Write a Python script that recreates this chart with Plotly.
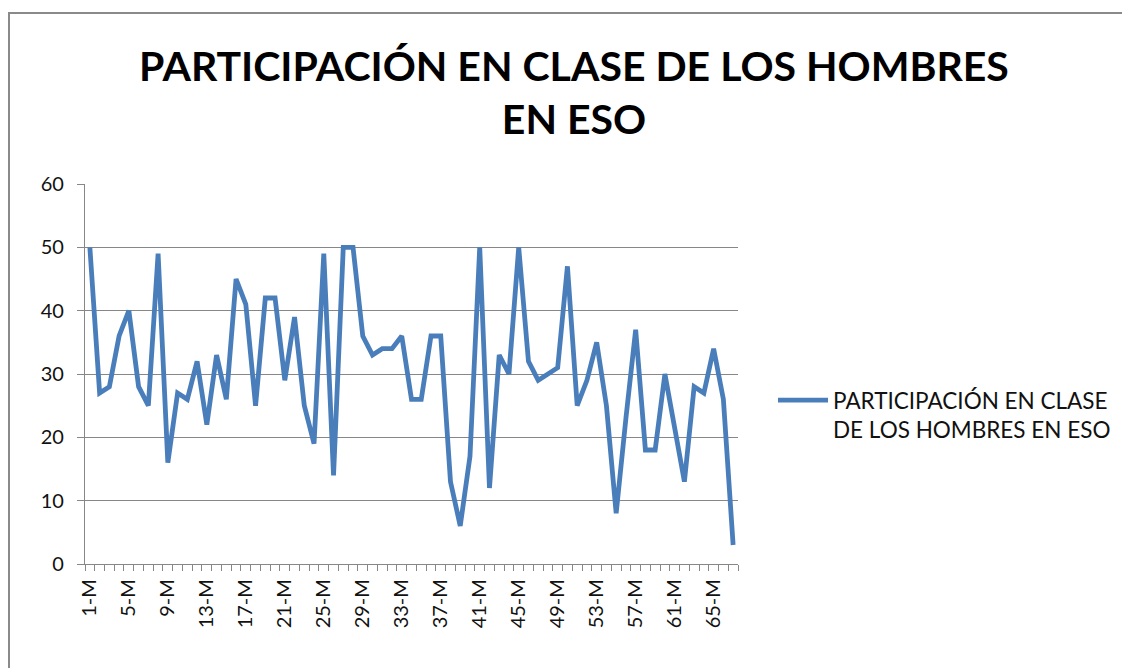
import plotly.graph_objects as go

categories = [f"{i}-M" for i in range(1, 68)]
values = [50, 27, 28, 36, 40, 28, 25, 49, 16, 27,
          26, 32, 22, 33, 26, 45, 41, 25, 42, 42,
          29, 39, 25, 19, 49, 14, 50, 50, 36, 33,
          34, 34, 36, 26, 26, 36, 36, 13, 6, 17,
          50, 12, 33, 30, 50, 32, 29, 30, 31, 47,
          25, 29, 35, 25, 8, 23, 37, 18, 18, 30,
          21, 13, 28, 27, 34, 26, 3]
series_name = "PARTICIPACIÓN EN CLASE<br>DE LOS HOMBRES EN ESO"
title_text = "PARTICIPACIÓN EN CLASE DE LOS HOMBRES<br>EN ESO"
tick_text = [c if i % 4 == 0 else "" for i, c in enumerate(categories)]

W, H = 1130, 668
L, R, T, B = 77, 400, 176, 112
pw, ph = W - L - R, H - T - B

FONT = "Lato, 'Open Sans', sans-serif"
GRID = "#878787"

fig = go.Figure()
fig.add_trace(go.Scatter(
    x=categories, y=values, mode="lines", name=series_name,
    line=dict(color="#4A7EBB", width=4.8),
    showlegend=True,
))

def px_x(p):
    return (p - L) / pw

def px_y(p):
    return (H - B - p) / ph

fig.update_layout(
    width=W, height=H,
    margin=dict(l=L, r=R, t=T, b=B, pad=0),
    paper_bgcolor="white", plot_bgcolor="white",
    font=dict(family=FONT, color="#111111"),
    title=dict(text="<b>" + title_text + "</b>", x=566 / W, xanchor="center",
               y=1 - 73 / H, yanchor="middle", xref="container", yref="container",
               font=dict(family=FONT, size=41, color="#000000")),
    showlegend=True,
    legend=dict(x=px_x(765), y=px_y(407), xanchor="left", yanchor="middle",
                font=dict(family=FONT, size=22.5, color="#111111"),
                bgcolor="rgba(0,0,0,0)", itemwidth=50, valign="top",
                tracegroupgap=0),
    xaxis=dict(
        type="category", categoryorder="array", categoryarray=categories,
        range=[-0.5, len(categories) - 0.5],
        tickmode="array", tickvals=categories, ticktext=tick_text,
        tickson="boundaries", ticks="outside", ticklen=6, tickcolor=GRID,
        tickangle=-90, tickfont=dict(family=FONT, size=20, color="#111111"),
        ticklabelstandoff=6,
        showline=True, linecolor=GRID, linewidth=1.3,
        showgrid=False, zeroline=False, fixedrange=True,
    ),
    yaxis=dict(
        range=[0, 60], dtick=10, tick0=0,
        ticks="outside", ticklen=7, tickcolor=GRID,
        tickfont=dict(family=FONT, size=20, color="#111111"),
        ticklabelstandoff=9,
        showline=True, linecolor=GRID, linewidth=1.3,
        showgrid=True, gridcolor=GRID, gridwidth=1.2,
        zeroline=False, fixedrange=True,
    ),
    shapes=[dict(type="rect", xref="paper", yref="paper",
                 x0=px_x(1), x1=px_x(1200), y0=px_y(720), y1=px_y(5),
                 line=dict(color="#8a8a8a", width=2), fillcolor="rgba(0,0,0,0)",
                 layer="below")],
)

fig.write_html("out.html")
